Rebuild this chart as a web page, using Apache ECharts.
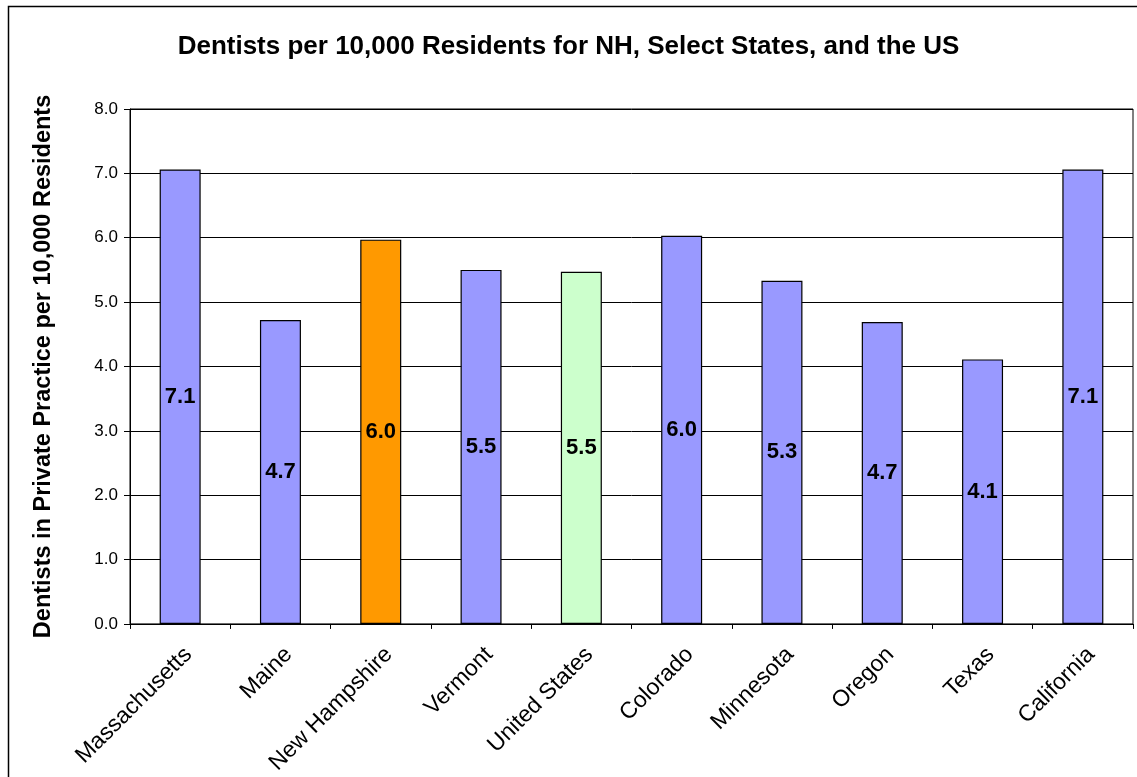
<!DOCTYPE html>
<html>
<head>
<meta charset="utf-8">
<title>Dentists per 10,000 Residents</title>
<script src="https://cdn.jsdelivr.net/npm/echarts@6/dist/echarts.min.js"></script>
<style>
  html, body { margin: 0; padding: 0; background: #fff; }
  #chart { width: 1137px; height: 777px; }
</style>
</head>
<body>
<div id="chart"></div>
<script>
// Dentists in private practice per 10,000 residents, by state
const categories = ['Massachusetts', 'Maine', 'New Hampshire', 'Vermont', 'United States',
                    'Colorado', 'Minnesota', 'Oregon', 'Texas', 'California'];
const dentistsPer10k = [7.06, 4.72, 5.97, 5.50, 5.47, 6.03, 5.33, 4.69, 4.11, 7.06];
const barColors = ['#9999FF', '#9999FF', '#FF9900', '#9999FF', '#CCFFCC',
                   '#9999FF', '#9999FF', '#9999FF', '#9999FF', '#9999FF'];

const FONT = 'Arial, "Liberation Sans", Helvetica, sans-serif';

const chart = echarts.init(document.getElementById('chart'), null, { renderer: 'canvas' });

chart.setOption({
  backgroundColor: '#fff',
  animation: false,
  title: {
    text: 'Dentists per 10,000 Residents for NH, Select States, and the US',
    left: 'center',
    top: 29,
    textStyle: { fontFamily: FONT, fontSize: 26, fontWeight: 'bold', color: '#000' }
  },
  graphic: [{
    type: 'rect',
    left: 6, top: 4,
    shape: { width: 1200, height: 900 },
    style: { fill: 'none', stroke: '#000', lineWidth: 1.5 },
    silent: true
  }],
  grid: {
    left: 130, right: 4, top: 109, bottom: 152,
    show: true, borderColor: '#000', borderWidth: 1, backgroundColor: 'transparent'
  },
  xAxis: {
    type: 'category',
    data: categories,
    axisLine: { lineStyle: { color: '#000', width: 1 } },
    axisTick: { show: true, length: 5, lineStyle: { color: '#000' } },
    axisLabel: {
      rotate: 45, margin: 19, interval: 0,
      verticalAlign: 'top',
      fontFamily: FONT, fontSize: 23, color: '#000'
    }
  },
  yAxis: {
    type: 'value',
    min: 0, max: 8, interval: 1,
    name: 'Dentists in Private Practice per 10,000 Residents',
    nameLocation: 'middle',
    nameRotate: 90,
    nameGap: 74,
    nameTextStyle: { fontFamily: FONT, fontSize: 23.5, fontWeight: 'bold', color: '#000' },
    axisLine: { show: true, lineStyle: { color: '#000', width: 1 } },
    axisTick: { show: true, length: 6, lineStyle: { color: '#000' } },
    axisLabel: {
      margin: 12,
      fontFamily: FONT, fontSize: 17, color: '#000',
      formatter: v => v.toFixed(1)
    },
    splitLine: { show: true, lineStyle: { color: '#000', width: 1 } }
  },
  series: [{
    type: 'bar',
    data: dentistsPer10k.map((v, i) => ({ value: v, itemStyle: { color: barColors[i] } })),
    barWidth: 41,
    itemStyle: { borderColor: '#000', borderWidth: 1.2 },
    label: {
      show: true,
      position: 'inside',
      fontFamily: FONT, fontSize: 22, fontWeight: 'bold', color: '#000',
      formatter: p => p.value.toFixed(1)
    }
  }]
});
</script>
</body>
</html>
